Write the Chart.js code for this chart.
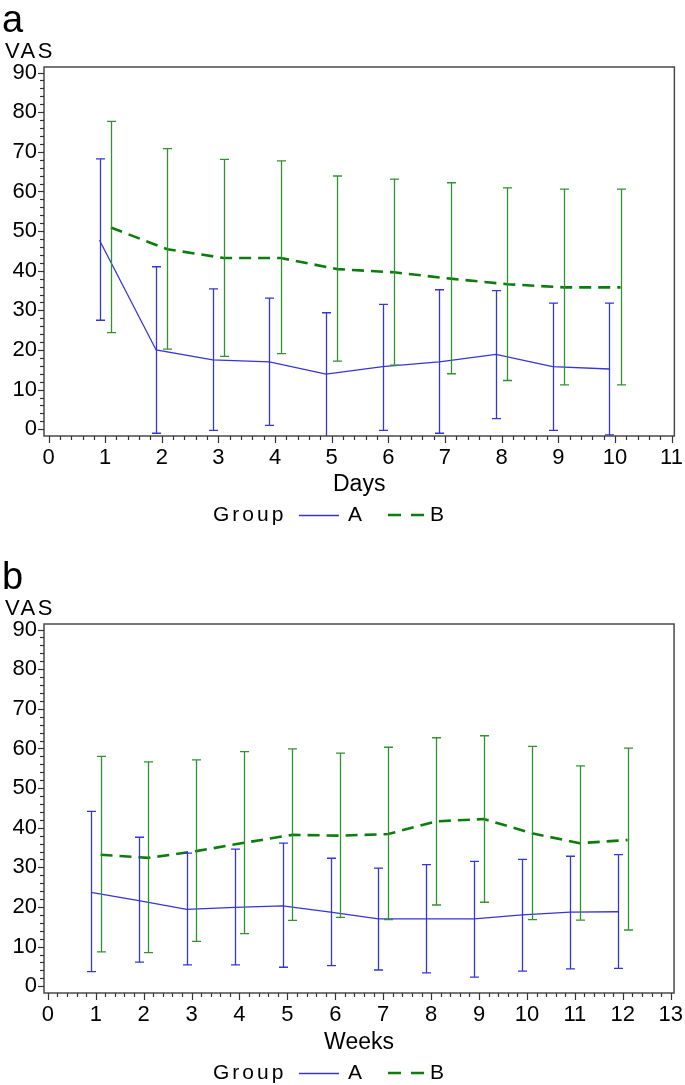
<!DOCTYPE html>
<html><head><meta charset="utf-8">
<script src="https://cdn.jsdelivr.net/npm/chart.js@4.4.0/dist/chart.umd.min.js"></script>
<style>
html,body{margin:0;padding:0;background:#fff;overflow:hidden}
#wrap{position:relative;width:685px;height:1085px;overflow:hidden;background:#fff}
canvas{position:absolute;left:0}
</style></head><body>
<div id="wrap">
<canvas id="ca" width="685" height="557" style="top:0;width:685px;height:557px"></canvas>
<canvas id="cb" width="685" height="528" style="top:557px;width:685px;height:528px"></canvas>
</div>
<script>
// ---- Panel a: daily VAS ----
const dayCats  = [1,2,3,4,5,6,7,8,9,10];
const dayMeanA = [47.7,20.0,17.5,17.0,13.9,15.8,17.0,18.9,15.8,15.2];
const dayHighA = [68.2,41.0,35.4,33.1,29.4,31.5,35.2,35.0,31.8,31.8];
const dayLowA  = [27.5,-1.0,-0.3,1.0,-2.0,-0.3,-1.0,2.7,-0.3,-1.4];
const dayMeanB = [50.9,45.4,43.2,43.2,40.4,39.6,38.0,36.6,35.8,35.8];
const dayHighB = [77.7,70.8,68.1,67.7,63.9,63.1,62.2,60.9,60.6,60.6];
const dayLowB  = [24.4,20.2,18.4,19.1,17.2,16.2,14.0,12.3,11.2,11.2];
const dayTicks = [0,1,2,3,4,5,6,7,8,9,10,11];

// ---- Panel b: weekly VAS ----
const weekCats  = [1,2,3,4,5,6,7,8,9,10,11,12];
const weekMeanA = [23.7,21.6,19.4,19.9,20.3,18.7,17.0,17.0,17.0,18.0,18.7,18.8];
const weekHighA = [44.1,37.6,33.6,34.6,36.1,32.3,29.8,30.7,31.5,32.0,32.8,33.2];
const weekLowA  = [3.7,6.1,5.4,5.4,4.8,5.2,4.1,3.4,2.3,3.8,4.4,4.5];
const weekMeanB = [33.2,32.4,34.1,36.2,38.2,38.0,38.4,41.6,42.2,38.6,36.1,36.9];
const weekHighB = [58.0,56.6,57.1,59.2,59.9,58.8,60.3,62.7,63.2,60.5,55.6,60.1];
const weekLowB  = [8.7,8.5,11.3,13.3,16.6,17.4,16.8,20.5,21.2,16.8,16.7,14.2];
const weekTicks = [0,1,2,3,4,5,6,7,8,9,10,11,12,13];

const vasTicks = [0,10,20,30,40,50,60,70,80,90];
const groupNames = ['A','B'];

const FONT = "'Liberation Sans', Arial, Helvetica, sans-serif";
const COL_A = '#3535d8';
const COL_B_LINE = '#0c7c0c';
const COL_B_BAR = '#329232';
const JITTER = 0.1;

function pts(xs, ys, dx){ return xs.map((x,i)=>({x:x+dx, y:ys[i]})); }

const deco = {
  id:'deco',
  afterDatasetsDraw(chart, args, o){
    const ctx = chart.ctx, ca = chart.chartArea, xs = chart.scales.x, ys = chart.scales.y;
    ctx.save();
    ctx.beginPath(); ctx.rect(ca.left, ca.top, ca.right-ca.left, ca.bottom-ca.top); ctx.clip();
    o.bars.forEach(b=>{
      ctx.strokeStyle = b.color; ctx.lineWidth = 1.3; ctx.setLineDash([]);
      b.cats.forEach((c,i)=>{
        const px = Math.round(xs.getPixelForValue(c+b.dx))+0.5;
        const yl = ys.getPixelForValue(b.low[i]), yh = ys.getPixelForValue(b.high[i]);
        ctx.beginPath();
        ctx.moveTo(px, yl); ctx.lineTo(px, yh);
        ctx.moveTo(px-4.5, yl); ctx.lineTo(px+4.5, yl);
        ctx.moveTo(px-4.5, yh); ctx.lineTo(px+4.5, yh);
        ctx.stroke();
      });
    });
    ctx.restore();
  },
  afterDraw(chart, args, o){
    const ctx = chart.ctx, ca = chart.chartArea, xs = chart.scales.x, ys = chart.scales.y;
    ctx.save();
    // frame
    ctx.strokeStyle = '#4a4a4a'; ctx.lineWidth = 1.5;
    ctx.strokeRect(ca.left, ca.top, ca.right-ca.left, ca.bottom-ca.top);
    // y ticks (major every 10, minor every 2)
    ctx.strokeStyle = '#333'; ctx.lineWidth = 1.2;
    for (let v = 0; v <= 90; v += 2){
      const y = Math.round(ys.getPixelForValue(v))+0.5;
      const len = (v % 10 === 0) ? 6 : 4;
      ctx.beginPath(); ctx.moveTo(ca.left-len, y); ctx.lineTo(ca.left, y); ctx.stroke();
    }
    // x ticks (major every 1, minor every 0.2)
    const xmax = o.xTicks[o.xTicks.length-1];
    for (let k = 0; k <= xmax*5; k++){
      const v = k/5;
      const x = Math.round(xs.getPixelForValue(v))+0.5;
      const len = (k % 5 === 0) ? 7 : 4;
      ctx.beginPath(); ctx.moveTo(x, ca.bottom); ctx.lineTo(x, ca.bottom+len); ctx.stroke();
    }
    // panel letter
    ctx.fillStyle = '#000';
    ctx.textBaseline = 'alphabetic'; ctx.textAlign = 'left';
    ctx.font = '38px ' + FONT;
    ctx.fillText(o.panel, 2, 32);
    // y axis title
    ctx.font = '22px ' + FONT;
    ctx.letterSpacing = '2.5px';
    ctx.textBaseline = 'middle';
    ctx.fillText('VAS', 5, 52);
    // legend
    const ly = o.legendY;
    ctx.font = '21px ' + FONT;
    ctx.letterSpacing = '3px';
    ctx.fillText('Group', 213, ly);
    ctx.letterSpacing = '0px';
    ctx.strokeStyle = COL_A; ctx.lineWidth = 1.3; ctx.setLineDash([]);
    ctx.beginPath(); ctx.moveTo(299, ly+0.5); ctx.lineTo(339, ly+0.5); ctx.stroke();
    ctx.fillText(groupNames[0], 348, ly);
    ctx.strokeStyle = COL_B_LINE; ctx.lineWidth = 2.5;
    ctx.beginPath(); ctx.moveTo(388, ly); ctx.lineTo(401, ly); ctx.moveTo(411, ly); ctx.lineTo(424, ly); ctx.stroke();
    ctx.fillText(groupNames[1], 430, ly);
    ctx.restore();
  }
};

function makeChart(id, cats, mA, hA, lA, mB, hB, lB, xTicks, xMax, xTitle, panel, H, titleCenter, legendY){
  const boxBottom = 436;
  new Chart(document.getElementById(id), {
    type:'line',
    data:{ datasets:[
      { label:groupNames[0], data:pts(cats, mA, -JITTER), borderColor:COL_A, borderWidth:1.3,
        pointRadius:0, tension:0, fill:false },
      { label:groupNames[1], data:pts(cats, mB, JITTER), borderColor:COL_B_LINE, borderWidth:2.6,
        borderDash:[12,7], pointRadius:0, tension:0, fill:false }
    ]},
    options:{
      responsive:false, animation:false, devicePixelRatio:1,
      layout:{ padding:{ left:0, top:67, right:10, bottom:0 } },
      plugins:{
        legend:{display:false}, tooltip:{enabled:false},
        deco:{ panel, legendY, xTicks,
          bars:[
            {cats, low:lA, high:hA, dx:-JITTER, color:COL_A},
            {cats, low:lB, high:hB, dx:JITTER, color:COL_B_BAR}
          ]}
      },
      scales:{
        x:{ type:'linear', min:-0.08, max:xMax,
          afterBuildTicks:(s)=>{ s.ticks = xTicks.map(v=>({value:v})); },
          afterFit:(s)=>{ s.height = H - boxBottom; },
          grid:{ drawOnChartArea:false, drawTicks:true, tickLength:7, color:'rgba(0,0,0,0)' },
          border:{ display:false },
          ticks:{ autoSkip:false, maxRotation:0, padding:2, color:'#000',
                  font:{ family:FONT, size:22 }, callback:(v)=>String(v) },
          title:{ display:true, text:xTitle, color:'#000', font:{ family:FONT, size:23 },
                  padding:{ top:0, bottom: H - titleCenter - 13.8 } }
        },
        y:{ type:'linear', min:-1.7, max:91.4,
          afterBuildTicks:(s)=>{ s.ticks = vasTicks.map(v=>({value:v})); },
          afterFit:(s)=>{ s.width = 44; },
          grid:{ drawOnChartArea:false, drawTicks:true, tickLength:6, color:'rgba(0,0,0,0)' },
          border:{ display:false },
          ticks:{ autoSkip:false, padding:1, color:'#000',
                  font:{ family:FONT, size:22 }, callback:(v)=>String(v) }
        }
      }
    },
    plugins:[deco]
  });
}

makeChart('ca', dayCats, dayMeanA, dayHighA, dayLowA, dayMeanB, dayHighB, dayLowB,
          dayTicks, 11.05, 'Days', 'a', 557, 485, 515);
makeChart('cb', weekCats, weekMeanA, weekHighA, weekLowA, weekMeanB, weekHighB, weekLowB,
          weekTicks, 13.07, 'Weeks', 'b', 528, 486, 516);
</script>
</body></html>
